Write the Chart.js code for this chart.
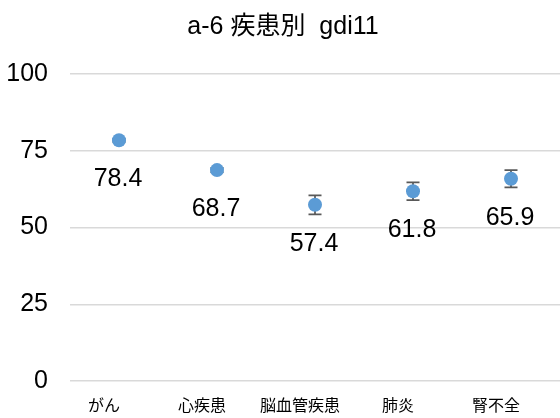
<!DOCTYPE html>
<html>
<head>
<meta charset="utf-8">
<script src="https://cdn.jsdelivr.net/npm/chart.js@4/dist/chart.umd.min.js"></script>
<style>
  html, body { margin: 0; padding: 0; background: #fff; }
  #wrap { width: 560px; height: 418px; }
</style>
</head>
<body>
<div id="wrap"><canvas id="chart"></canvas></div>
<script>
const categories = ['がん', '心疾患', '脳血管疾患', '肺炎', '腎不全'];
const values = [78.4, 68.7, 57.4, 61.8, 65.9];
const errors = [0.5, 0.7, 3.1, 2.9, 2.8];
const yTicks = [0, 25, 50, 75, 100];

const FONT = "'Liberation Sans', 'Noto Sans CJK JP', sans-serif";
const CJK = "'Noto Sans CJK JP', sans-serif";

// error bars, dots and value labels under each point
const extras = {
  id: 'extras',
  afterDatasetsDraw(chart) {
    const ctx = chart.ctx;
    const y = chart.scales.y;
    const meta = chart.getDatasetMeta(0);
    ctx.save();
    meta.data.forEach((pt, i) => {
      const top = y.getPixelForValue(values[i] + errors[i]);
      const bot = y.getPixelForValue(values[i] - errors[i]);
      ctx.strokeStyle = '#595959';
      ctx.lineWidth = 1.75;
      ctx.beginPath();
      ctx.moveTo(pt.x, top); ctx.lineTo(pt.x, bot);
      ctx.moveTo(pt.x - 6.5, top); ctx.lineTo(pt.x + 6.5, top);
      ctx.moveTo(pt.x - 6.5, bot); ctx.lineTo(pt.x + 6.5, bot);
      ctx.stroke();
    });
    meta.data.forEach((pt, i) => {
      ctx.beginPath();
      ctx.fillStyle = '#5B9BD5';
      ctx.arc(pt.x, pt.y, 7, 0, Math.PI * 2);
      ctx.fill();
      ctx.fillStyle = '#000';
      ctx.font = '25px ' + FONT;
      ctx.textAlign = 'center';
      ctx.textBaseline = 'middle';
      ctx.fillText(values[i].toFixed(1), pt.x - 1, pt.y + 39);
    });
    ctx.restore();
  }
};

new Chart(document.getElementById('chart'), {
  type: 'line',
  data: {
    labels: categories,
    datasets: [{
      data: values,
      showLine: false,
      pointRadius: 0
    }]
  },
  options: {
    responsive: true,
    maintainAspectRatio: false,
    animation: false,
    layout: { padding: { left: 6, right: 0, top: 0, bottom: -16 } },
    plugins: {
      legend: { display: false },
      tooltip: { enabled: false },
      title: {
        display: true,
        text: 'a-6 疾患別  gdi11',
        color: '#000',
        font: { family: FONT, size: 25, weight: 'normal' },
        padding: { top: 12, bottom: 32 }
      }
    },
    scales: {
      x: {
        offset: true,
        grid: { display: false, drawTicks: false },
        border: { display: false },
        ticks: { color: '#000', font: { family: CJK, size: 16 }, padding: 14, maxRotation: 0, labelOffset: -15 }
      },
      y: {
        min: 0,
        max: 100,
        afterBuildTicks(axis) { axis.ticks = yTicks.map(v => ({ value: v })); },
        afterFit(axis) { axis.width = 64; },
        grid: { color: '#d9d9d9', lineWidth: 1.5, drawTicks: false },
        border: { display: false },
        ticks: { color: '#000', font: { family: FONT, size: 25 }, padding: 22 }
      }
    }
  },
  plugins: [extras]
});
</script>
</body>
</html>
